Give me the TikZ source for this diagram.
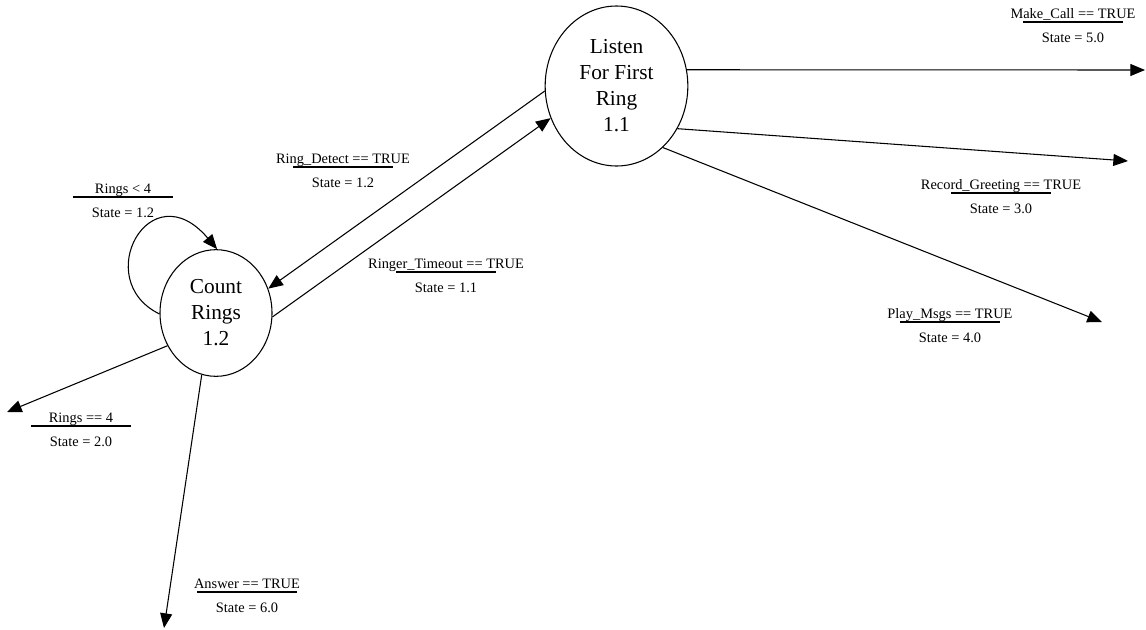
\documentclass[tikz,border=0pt]{standalone}
\usepackage{fontspec}
\setmainfont{Liberation Serif}
\usetikzlibrary{shapes.geometric,arrows.meta}

% guard label: condition text, a rule, and the resulting state below it
\newcommand\guardlabel[5]{%
  \node[guardtext,anchor=base] (#1-cond) at (#2,#3-4) {#4};
  \draw[guardrule] (#2-50,#3) -- (#2+50,#3);
  \node[guardtext,anchor=base] (#1-state) at (#2,#3+20) {#5};
}

\begin{document}
\begin{tikzpicture}[x=0.75pt,y=-0.75pt,
  statenode/.style={draw,ellipse,line width=0.8pt,inner sep=0pt,align=center,
    font=\fontsize{16}{19.5}\selectfont},
  trans/.style={draw,line width=0.8pt,-{Triangle[length=11pt,width=9pt]}},
  guardtext/.style={inner sep=0pt,font=\fontsize{10.8}{12}\selectfont},
  guardrule/.style={line width=0.8pt}]
\useasboundingbox (0,0) rectangle (1146,629);

% states
\node[statenode,minimum width=107pt,minimum height=120pt] (s11) at (616.5,86)
  {Listen\\For First\\Ring\\1.1};
\node[statenode,minimum width=84pt,minimum height=95pt] (s12) at (216,313)
  {Count\\Rings\\1.2};

% exits to other states
\coordinate (toMake)   at (1145,70);
\coordinate (toRecord) at (1128,161);
\coordinate (toPlay)   at (1102,322);
\coordinate (toRings4) at (7,412);
\coordinate (toAnswer) at (164,628);

\draw[trans] (s11.13) -- (toMake);
\draw[trans] (s11.-35.4) -- (toRecord);
\draw[trans] (s11.-53.1) -- (toPlay);
\draw[trans] (s11.184) -- (s12.25.3);
\draw[trans] (s12.-4) -- (s11.206.7);
\draw[trans] (s12.181) .. controls (90,280) and (150,170) .. (s12.89);
\draw[trans] (s12.214.8) -- (toRings4);
\draw[trans] (s12.257.3) -- (toAnswer);

% guard labels
\guardlabel{make}{1073}{22}{Make\_Call == TRUE}{State = 5.0}
\guardlabel{record}{1001}{193}{Record\_Greeting == TRUE}{State = 3.0}
\guardlabel{play}{950}{322}{Play\_Msgs == TRUE}{State = 4.0}
\guardlabel{detect}{343}{167}{Ring\_Detect == TRUE}{State = 1.2}
\guardlabel{timeout}{446}{272}{Ringer\_Timeout == TRUE}{State = 1.1}
\guardlabel{loop}{123}{197}{Rings < 4}{State = 1.2}
\guardlabel{rings}{81}{426}{Rings == 4}{State = 2.0}
\guardlabel{answer}{247}{592}{Answer == TRUE}{State = 6.0}
\end{tikzpicture}
\end{document}
